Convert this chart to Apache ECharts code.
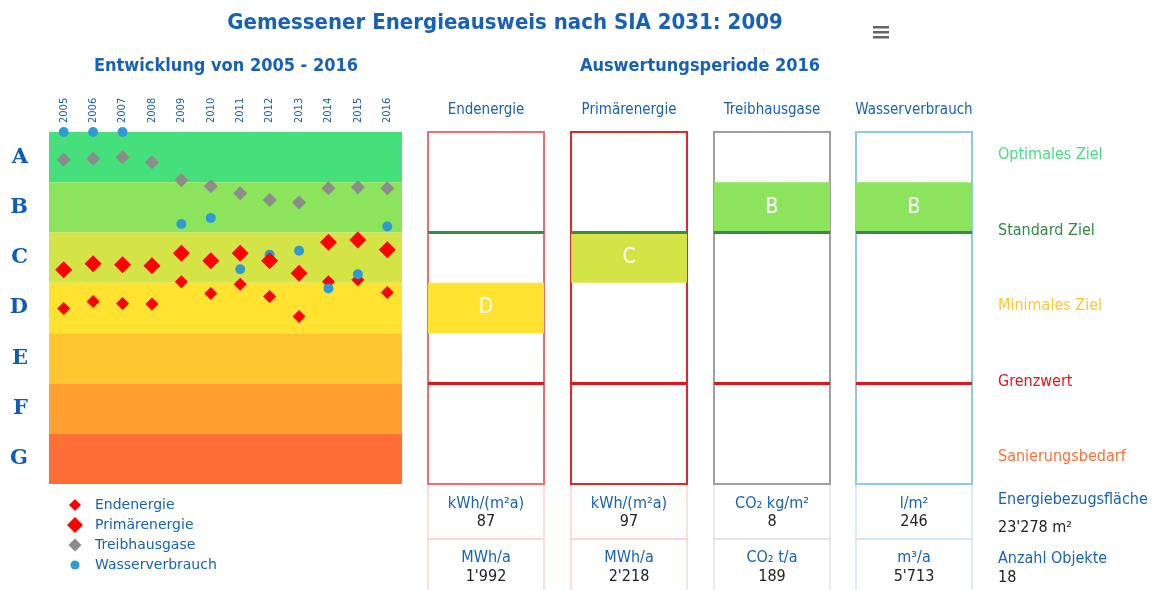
<!DOCTYPE html>
<html>
<head>
<meta charset="utf-8">
<script src="https://cdn.jsdelivr.net/npm/echarts@6/dist/echarts.min.js"></script>
<style>
html, body { margin: 0; padding: 0; background: #fff; }
#main { width: 1161px; height: 590px; }
</style>
</head>
<body>
<div id="main"></div>
<script>
// Daten
var years = ['2005', '2006', '2007', '2008', '2009', '2010', '2011', '2012', '2013', '2014', '2015', '2016'];
var classes = ['A', 'B', 'C', 'D', 'E', 'F', 'G'];
// Werte in Klassen-Einheiten (0 = oberer Rand A, 7 = unterer Rand G)
var endenergie = [3.51, 3.37, 3.41, 3.42, 2.98, 3.21, 3.03, 3.27, 3.67, 2.98, 2.94, 3.19];
var primaerenergie = [2.74, 2.62, 2.64, 2.66, 2.41, 2.56, 2.41, 2.56, 2.81, 2.19, 2.15, 2.34];
var treibhausgase = [0.55, 0.53, 0.50, 0.60, 0.96, 1.08, 1.22, 1.35, 1.40, 1.12, 1.10, 1.12];
var wasserverbrauch = [0.0, 0.0, 0.0, '-', 1.83, 1.71, 2.73, 2.44, 2.36, 3.11, 2.83, 1.88];

var indicators = ['Endenergie', 'Primärenergie', 'Treibhausgase', 'Wasserverbrauch'];
var currentClass = ['D', 'C', 'B', 'B'];
var unitsArea = ['kWh/(m²a)', 'kWh/(m²a)', 'CO₂ kg/m²', 'l/m²'];
var valuesArea = ['87', '97', '8', '246'];
var unitsTotal = ['MWh/a', 'MWh/a', 'CO₂ t/a', 'm³/a'];
var valuesTotal = ["1'992", "2'218", '189', "5'713"];

var targetNames = ['Optimales Ziel', 'Standard Ziel', 'Minimales Ziel', 'Grenzwert', 'Sanierungsbedarf'];
var targetLevels = [0.5, 2, 3.5, 5, 6.5];
var standardLevel = 2;
var limitLevel = 5;

var infoLabels = ['Energiebezugsfläche', 'Anzahl Objekte'];
var infoValues = ["23'278 m²", '18'];

// Stil
var blue = '#1761b8';
var font = "'DejaVu Sans Condensed', 'DejaVu Sans', sans-serif";
var bandColors = ['#45e07b', '#8be45b', '#d4e447', '#ffe330', '#ffc632', '#ff9f31', '#ff6e34'];
var targetColors = ['#45e07b', '#2f8a42', '#ffc632', '#e3151b', '#ff6e34'];
var panelLeft = [428, 571, 714, 856];
var panelWidth = 116;
var panelBorder = ['#f56a6a', '#e3262a', '#a0a0a0', '#90c8e6'];
var tableBorder = ['#fad4d4', '#fad4d4', '#e2e2e2', '#cfe6f3'];

var chart = echarts.init(document.getElementById('main'));

var grids = [{left: 49, top: 132, width: 353, height: 352}];
var xAxes = [{
    type: 'category', gridIndex: 0, data: years, position: 'top', boundaryGap: true,
    axisLine: {show: false}, axisTick: {show: false}, splitLine: {show: false},
    axisLabel: {rotate: 90, color: blue, fontSize: 11, margin: 9, fontFamily: font}
}];
var yAxes = [
    {type: 'value', gridIndex: 0, min: 0, max: 7, inverse: true, show: false},
    {type: 'category', gridIndex: 0, data: classes, inverse: true, position: 'left',
        axisLine: {show: false}, axisTick: {show: false},
        axisLabel: {color: '#0f5cb8', fontSize: 21, fontWeight: 'bold', fontFamily: "'DejaVu Serif', serif", margin: 21}}
];

var series = [{
    type: 'scatter', xAxisIndex: 0, yAxisIndex: 0, data: [], silent: true, z: 1,
    markArea: {
        silent: true,
        data: classes.map(function (c, i) {
            return [{yAxis: i, itemStyle: {color: bandColors[i], opacity: 1}}, {yAxis: i + 1}];
        })
    }
}, {
    name: 'Endenergie', type: 'scatter', xAxisIndex: 0, yAxisIndex: 0, data: endenergie,
    symbol: 'diamond', symbolSize: 13, itemStyle: {color: '#ff0000', opacity: 1}, clip: false, z: 3
}, {
    name: 'Treibhausgase', type: 'scatter', xAxisIndex: 0, yAxisIndex: 0, data: treibhausgase,
    symbol: 'diamond', symbolSize: 14, itemStyle: {color: '#8c8c8c', opacity: 1}, clip: false, z: 3
}, {
    name: 'Wasserverbrauch', type: 'scatter', xAxisIndex: 0, yAxisIndex: 0, data: wasserverbrauch,
    symbol: 'circle', symbolSize: 10, itemStyle: {color: '#2f9bd0', opacity: 1}, clip: false, z: 4
}, {
    name: 'Primärenergie', type: 'scatter', xAxisIndex: 0, yAxisIndex: 0, data: primaerenergie,
    symbol: 'diamond', symbolSize: 17, itemStyle: {color: '#ff0000', opacity: 1}, clip: false, z: 5
}];

// Auswertungsperiode: vier Spalten
indicators.forEach(function (name, i) {
    grids.push({left: panelLeft[i], top: 132, width: panelWidth, height: 352,
        show: true, borderColor: panelBorder[i], borderWidth: 2, backgroundColor: '#fff'});
    xAxes.push({type: 'value', gridIndex: i + 1, min: 0, max: 1, show: false});
    yAxes.push({type: 'value', gridIndex: i + 1, min: 0, max: 7, inverse: true, show: false});
    var k = classes.indexOf(currentClass[i]);
    series.push({
        type: 'scatter', xAxisIndex: i + 1, yAxisIndex: i + 2, data: [], silent: true,
        markArea: {
            silent: true,
            label: {show: true, position: 'inside', color: '#fff', fontSize: 21, fontFamily: font},
            data: [[{yAxis: k, name: currentClass[i], itemStyle: {color: bandColors[k], opacity: 1}}, {yAxis: k + 1}]]
        },
        markLine: {
            silent: true, symbol: 'none', label: {show: false},
            data: [
                {yAxis: standardLevel, lineStyle: {color: '#3a8a48', width: 3, type: 'solid', opacity: 1}},
                {yAxis: limitLevel, lineStyle: {color: '#e3151b', width: 3, type: 'solid', opacity: 1}}
            ]
        }
    });
});

// Zielbeschriftungen rechts
grids.push({left: 993, top: 132, width: 160, height: 352});
xAxes.push({type: 'value', gridIndex: 5, min: 0, max: 1, show: false});
yAxes.push({type: 'value', gridIndex: 5, min: 0, max: 7, inverse: true, show: false});
series.push({
    type: 'scatter', xAxisIndex: 5, yAxisIndex: 6, symbolSize: 0, silent: true,
    itemStyle: {opacity: 1},
    data: targetLevels.map(function (v, i) {
        return {value: [0, v], name: targetNames[i], label: {color: targetColors[i]}};
    }),
    label: {show: true, position: 'right', distance: 5, fontSize: 16, fontFamily: font, offset: [0, -2],
        formatter: function (p) { return p.name; }}
});

// Texte und Tabelle
var graphics = [
    {type: 'text', x: 505, y: 23, style: {text: 'Gemessener Energieausweis nach SIA 2031: 2009',
        fill: blue, font: 'bold 22px ' + font, textAlign: 'center', textVerticalAlign: 'middle'}},
    {type: 'text', x: 226, y: 66, style: {text: 'Entwicklung von ' + years[0] + ' - ' + years[years.length - 1],
        fill: blue, font: 'bold 18px ' + font, textAlign: 'center', textVerticalAlign: 'middle'}},
    {type: 'text', x: 700, y: 66, style: {text: 'Auswertungsperiode ' + years[years.length - 1],
        fill: blue, font: 'bold 18px ' + font, textAlign: 'center', textVerticalAlign: 'middle'}},
    {type: 'rect', shape: {x: 873, y: 26, width: 16, height: 2.5}, style: {fill: '#666'}},
    {type: 'rect', shape: {x: 873, y: 31, width: 16, height: 2.5}, style: {fill: '#666'}},
    {type: 'rect', shape: {x: 873, y: 36, width: 16, height: 2.5}, style: {fill: '#666'}}
];
indicators.forEach(function (name, i) {
    var cx = panelLeft[i] + panelWidth / 2;
    graphics.push(
        {type: 'text', x: cx, y: 110, style: {text: name, fill: blue, font: '15px ' + font,
            textAlign: 'center', textVerticalAlign: 'middle'}},
        {type: 'rect', z: -1, shape: {x: panelLeft[i], y: 484, width: panelWidth, height: 55},
            style: {fill: 'none', stroke: tableBorder[i], lineWidth: 1.5}},
        {type: 'rect', z: -1, shape: {x: panelLeft[i], y: 539, width: panelWidth, height: 60},
            style: {fill: 'none', stroke: tableBorder[i], lineWidth: 1.5}},
        {type: 'text', x: cx, y: 504, style: {text: unitsArea[i], fill: blue, font: '16px ' + font,
            textAlign: 'center', textVerticalAlign: 'middle'}},
        {type: 'text', x: cx, y: 522, style: {text: valuesArea[i], fill: '#222', font: '16px ' + font,
            textAlign: 'center', textVerticalAlign: 'middle'}},
        {type: 'text', x: cx, y: 558, style: {text: unitsTotal[i], fill: blue, font: '16px ' + font,
            textAlign: 'center', textVerticalAlign: 'middle'}},
        {type: 'text', x: cx, y: 577, style: {text: valuesTotal[i], fill: '#222', font: '16px ' + font,
            textAlign: 'center', textVerticalAlign: 'middle'}}
    );
});
graphics.push(
    {type: 'text', x: 998, y: 500, style: {text: infoLabels[0], fill: blue, font: '16px ' + font, textVerticalAlign: 'middle'}},
    {type: 'text', x: 998, y: 528, style: {text: infoValues[0], fill: '#222', font: '16px ' + font, textVerticalAlign: 'middle'}},
    {type: 'text', x: 998, y: 559, style: {text: infoLabels[1], fill: blue, font: '16px ' + font, textVerticalAlign: 'middle'}},
    {type: 'text', x: 998, y: 578, style: {text: infoValues[1], fill: '#222', font: '16px ' + font, textVerticalAlign: 'middle'}}
);

// Legende: je Eintrag eine eigene, damit die Symbolgrösse stimmt
var legendItems = [
    {name: 'Endenergie', icon: 'diamond', size: 12, cy: 505},
    {name: 'Primärenergie', icon: 'diamond', size: 16, cy: 525},
    {name: 'Treibhausgase', icon: 'diamond', size: 13, cy: 545},
    {name: 'Wasserverbrauch', icon: 'circle', size: 9, cy: 565}
];
var legends = legendItems.map(function (it) {
    return {
        orient: 'vertical', left: 75 - it.size / 2, top: it.cy - 9, padding: 0,
        itemWidth: it.size, itemHeight: it.size,
        data: [{name: it.name, icon: it.icon}],
        textStyle: {color: blue, fontSize: 14, lineHeight: 18, fontFamily: "'DejaVu Sans', sans-serif",
            padding: [0, 0, 0, 15 - it.size / 2]}
    };
});

var option = {
    animation: false,
    backgroundColor: '#fff',
    legend: legends,
    grid: grids,
    xAxis: xAxes,
    yAxis: yAxes,
    series: series,
    graphic: graphics
};

chart.setOption(option);
</script>
</body>
</html>
